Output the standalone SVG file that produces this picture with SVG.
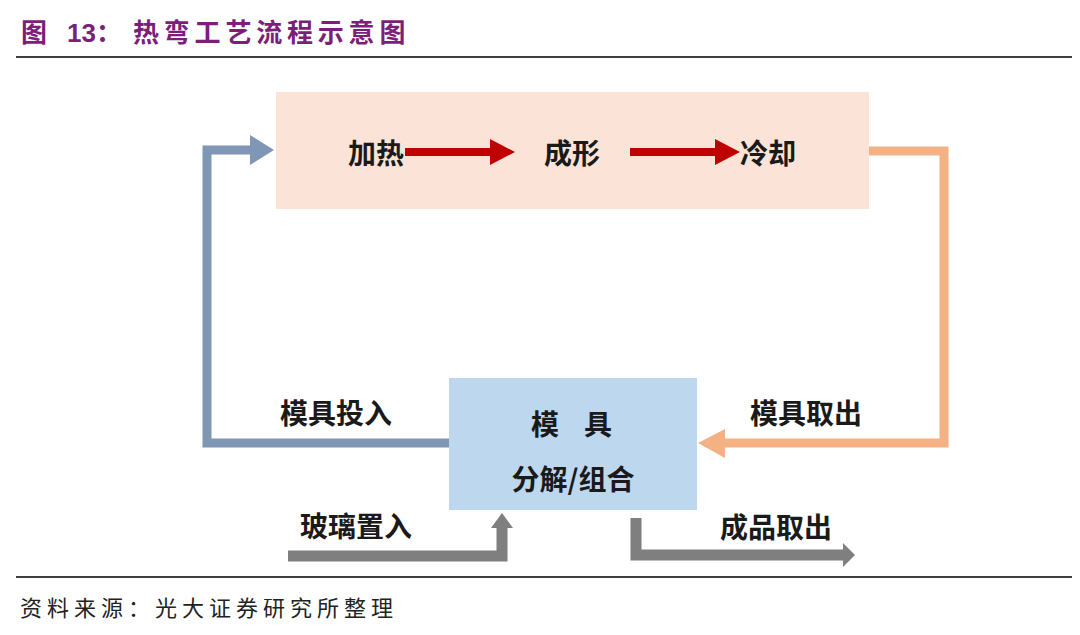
<svg xmlns="http://www.w3.org/2000/svg" width="1080" height="635" viewBox="0 0 1080 635">
<defs>
<style>
.lbl{font-family:"Noto Sans CJK SC","Liberation Sans",sans-serif;font-weight:700;font-size:28px;fill:#1a1a1a;dominant-baseline:central}
.title{font-family:"Liberation Sans","Noto Sans CJK SC",sans-serif;font-weight:700;font-size:26px;fill:#7b1f7b;dominant-baseline:central}
.src{font-family:"Liberation Serif","Noto Sans CJK SC",serif;font-size:22px;fill:#222;dominant-baseline:central;letter-spacing:5px}
.rule{stroke:#000;stroke-width:1.5}
</style>
</defs>
<rect width="1080" height="635" fill="#fff"/>
<g id="title">
<text class="title" x="21" y="33">图</text>
<text class="title" x="67" y="33">13：</text>
<text class="title" x="133" y="33" style="letter-spacing:4.8px">热弯工艺流程示意图</text>
</g>
<line class="rule" x1="16" y1="57" x2="1072" y2="57"/>
<line class="rule" x1="16" y1="577" x2="1072" y2="577"/>
<g id="process-box">
<rect x="276" y="92" width="593" height="117" fill="#fbe3d7"/>
<text class="lbl" x="348" y="152">加热</text>
<text class="lbl" x="544" y="152">成形</text>
<text class="lbl" x="740" y="152">冷却</text>
</g>
<g id="mold-box">
<rect x="449" y="378" width="248" height="132" fill="#bdd7ee"/>
<text class="lbl" x="531" y="423">模</text>
<text class="lbl" x="584" y="423">具</text>
<text class="lbl" x="573" y="478" text-anchor="middle">分解/组合</text>
</g>
<g id="connectors">
<path d="M405 152 H492" stroke="#c00000" stroke-width="8" fill="none"/>
<polygon points="490,139 515,152 490,165" fill="#c00000"/>
<path d="M630 152 H717" stroke="#c00000" stroke-width="8" fill="none"/>
<polygon points="715,139 740,152 715,165" fill="#c00000"/>
<path d="M449 443 H207 V150 H252" stroke="#7f96b4" stroke-width="9" fill="none"/>
<polygon points="250,135 274,150 250,165" fill="#7f96b4"/>
<path d="M869 151 H944 V443 H722" stroke="#f4b183" stroke-width="9" fill="none"/>
<polygon points="725,429 698,443 725,458" fill="#f4b183"/>
<path d="M288 556 H502 V525" stroke="#7f7f7f" stroke-width="11" fill="none"/>
<polygon points="491,528 502,513 513,528" fill="#7f7f7f"/>
<path d="M636 518 V555 H845" stroke="#7f7f7f" stroke-width="11" fill="none"/>
<polygon points="843,543 855,555 843,567" fill="#7f7f7f"/>
</g>
<g id="labels">
<text class="lbl" x="280" y="412">模具投入</text>
<text class="lbl" x="300" y="525">玻璃置入</text>
<text class="lbl" x="750" y="412">模具取出</text>
<text class="lbl" x="720" y="526">成品取出</text>
</g>
<text class="src" x="20" y="608">资料来源：光大证券研究所整理</text>
</svg>
